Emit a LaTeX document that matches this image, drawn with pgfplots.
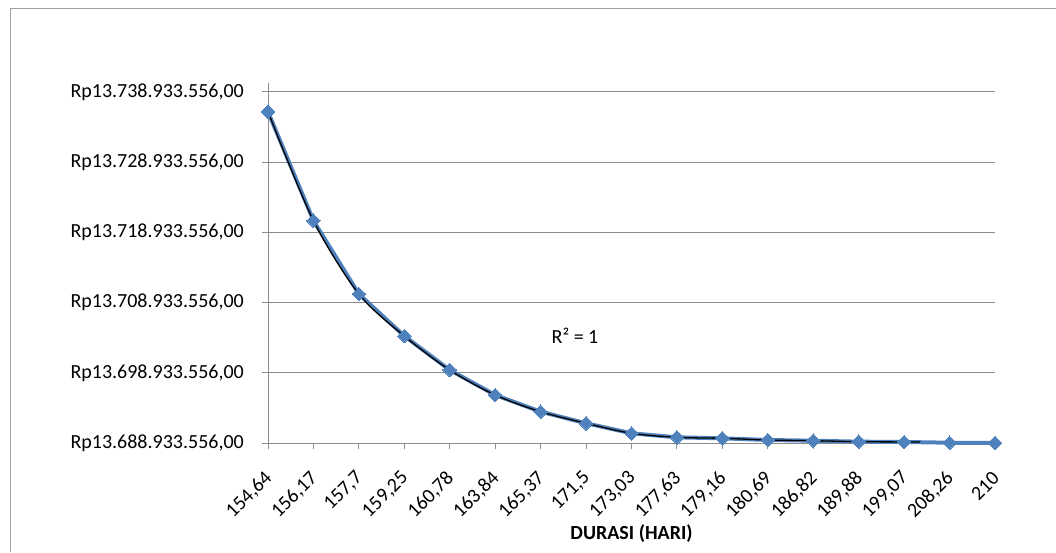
\documentclass[border=0pt]{standalone}
\usepackage{fontspec}
\setmainfont{Carlito}
\usepackage{pgfplots}
\pgfplotsset{compat=1.18}
\definecolor{xlblue}{RGB}{79,129,189}
\definecolor{gridgray}{RGB}{140,140,140}
\definecolor{bordergray}{RGB}{160,160,160}
\begin{document}
\begin{tikzpicture}[font=\fontsize{20}{24}\selectfont]
\useasboundingbox (0pt,0pt) rectangle (1056pt,-552pt);
\draw[bordergray, line width=1pt] (10pt,-552pt) -- (10pt,-8pt) -- (1056pt,-8pt);
\begin{axis}[
  at={(268pt,-443pt)}, anchor=south west,
  scale only axis,
  width=727pt, height=360pt,
  xmin=0, xmax=16,
  ymin=13688933556, ymax=13740213556,
  scaled y ticks=false, scaled x ticks=false,
  clip=false,
  axis x line*=bottom, axis y line*=left,
  axis line style={draw=gridgray, line width=1pt, -},
  xtick={0,...,16},
  xticklabels={{154,64},{156,17},{157,7},{159,25},{160,78},{163,84},{165,37},{171,5},{173,03},{177,63},{179,16},{180,69},{186,82},{189,88},{199,07},{208,26},{210}},
  ytick={13688933556,13698933556,13708933556,13718933556,13728933556,13738933556},
  yticklabels={{Rp13.688.933.556,00},{Rp13.698.933.556,00},{Rp13.708.933.556,00},{Rp13.718.933.556,00},{Rp13.728.933.556,00},{Rp13.738.933.556,00}},
  tick align=outside,
  major tick length=6pt,
  tick style={draw=gridgray, line width=1pt},
  xtick pos=bottom, ytick pos=left,
  ymajorgrids,
  major grid style={draw=gridgray, line width=1pt},
  tick label style={font=\fontsize{20}{24}\selectfont, inner sep=0pt},
  yticklabel style={anchor=east, xshift=-18pt},
  xticklabel style={yshift=-26pt, xshift=1pt, rotate=45, anchor=east},
  xlabel={\bfseries DURASI (HARI)},
  every axis x label/.style={at={(axis description cs:0.5,0)}, anchor=center, yshift=-91pt, font=\fontsize{20}{24}\selectfont},
]
\addplot[xlblue, line width=4pt, mark=square*, mark size=4.8pt, mark options={rotate=45, fill=xlblue, draw=xlblue, line width=0pt}] coordinates {
(0,13736123556) (1,13720603556) (2,13710163556) (3,13704173556) (4,13699333556)
(5,13695773556) (6,13693393556) (7,13691743556) (8,13690313556) (9,13689743556)
(10,13689603556) (11,13689363556) (12,13689263556) (13,13689123556) (14,13689083556)
(15,13688973556) (16,13688933556)
};
\addplot[black, line width=1.3pt, smooth, tension=0.5] coordinates {
(0,13736123556) (1,13720603556) (2,13710163556) (3,13704173556) (4,13699333556)
(5,13695773556) (6,13693393556) (7,13691743556) (8,13690313556) (9,13689743556)
(10,13689603556) (11,13689363556) (12,13689263556) (13,13689123556) (14,13689083556)
(14.35,13689063556)
};
\end{axis}
\node[anchor=center] at (575pt,-336pt) {R² = 1};
\end{tikzpicture}
\end{document}
